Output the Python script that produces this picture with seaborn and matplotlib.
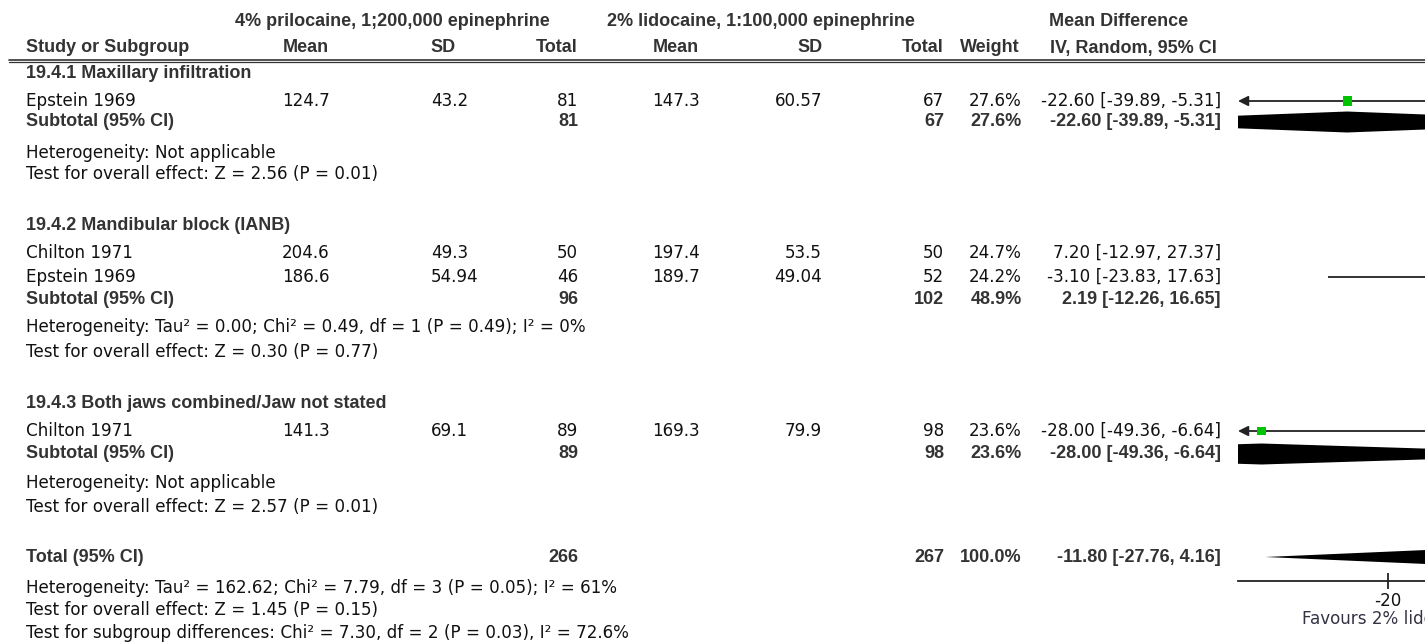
import matplotlib
matplotlib.use("Agg")
import matplotlib.pyplot as plt
from matplotlib.patches import Polygon
import seaborn as sns
import pandas as pd

# ---- data ----
group_titles = ["19.4.1 Maxillary infiltration",
                "19.4.2 Mandibular block (IANB)",
                "19.4.3 Both jaws combined/Jaw not stated"]
study_names = ["Epstein 1969", "Chilton 1971", "Epstein 1969", "Chilton 1971"]
study_group = [0, 1, 1, 2]
mean_pri = [124.7, 204.6, 186.6, 141.3]
sd_pri = [43.2, 49.3, 54.94, 69.1]
n_pri = [81, 50, 46, 89]
mean_lid = [147.3, 197.4, 189.7, 169.3]
sd_lid = [60.57, 53.5, 49.04, 79.9]
n_lid = [67, 50, 52, 98]
weight = [27.6, 24.7, 24.2, 23.6]
md = [-22.60, 7.20, -3.10, -28.00]
md_lo = [-39.89, -12.97, -23.83, -49.36]
md_hi = [-5.31, 27.37, 17.63, -6.64]

sub_n_pri = [81, 96, 89]
sub_n_lid = [67, 102, 98]
sub_weight = [27.6, 48.9, 23.6]
sub_md = [-22.60, 2.19, -28.00]
sub_lo = [-39.89, -12.26, -49.36]
sub_hi = [-5.31, 16.65, -6.64]

het_text = ["Heterogeneity: Not applicable",
            "Heterogeneity: Tau\u00b2 = 0.00; Chi\u00b2 = 0.49, df = 1 (P = 0.49); I\u00b2 = 0%",
            "Heterogeneity: Not applicable"]
effect_text = ["Test for overall effect: Z = 2.56 (P = 0.01)",
               "Test for overall effect: Z = 0.30 (P = 0.77)",
               "Test for overall effect: Z = 2.57 (P = 0.01)"]

total_n_pri = 266
total_n_lid = 267
total_weight = 100.0
total_md = -11.80
total_lo = -27.76
total_hi = 4.16
total_notes = ["Heterogeneity: Tau\u00b2 = 162.62; Chi\u00b2 = 7.79, df = 3 (P = 0.05); I\u00b2 = 61%",
               "Test for overall effect: Z = 1.45 (P = 0.15)",
               "Test for subgroup differences: Chi\u00b2 = 7.30, df = 2 (P = 0.03), I\u00b2 = 72.6%"]

xticks = [-20]
favours_left = "Favours 2% lidocaine"

# ---- layout (pixel rows, top = 0) ----
W, H = 1425, 643
group_title_y = [73, 225, 403]
study_y = [101, 253, 277, 431]
sub_y = [122, 300, 454]
het_y = [153, 327, 483]
effect_y = [174, 352, 507]
total_y = 557
total_notes_y = [588, 610, 633]

sns.set_theme(style="white")
plt.rcParams["font.family"] = ["DejaVu Sans"]

REG = dict(family="DejaVu Sans", size=12.1, color="#111111")
BOLD = dict(family="Liberation Sans", size=13, weight="bold", color="#333333")

fig = plt.figure(figsize=(W / 100, H / 100), dpi=100)
ax = fig.add_axes([0, 0, 1, 1])
ax.set_xlim(0, W)
ax.set_ylim(H, 0)
ax.axis("off")

# column anchors
X_NAME = 26
X_MEAN1, X_SD1, X_N1 = 306, 431, 578
X_MEAN2, X_SD2, X_N2 = 676, 822, 944
X_W, X_MD = 1022, 1221


def put(x, y, s, ha="left", style=REG):
    ax.text(x, y, s, ha=ha, va="center", **style)


# header
put(392, 22, "4% prilocaine, 1;200,000 epinephrine", "center", BOLD)
put(761, 22, "2% lidocaine, 1:100,000 epinephrine", "center", BOLD)
put(1049, 22, "Mean Difference", "left", BOLD)
put(X_NAME, 48, "Study or Subgroup", "left", BOLD)
put(X_MEAN1, 48, "Mean", "center", BOLD)
put(443, 48, "SD", "center", BOLD)
put(X_N1, 48, "Total", "right", BOLD)
put(X_MEAN2, 48, "Mean", "center", BOLD)
put(810, 48, "SD", "center", BOLD)
put(X_N2, 48, "Total", "right", BOLD)
put(960, 48, "Weight", "left", BOLD)
put(1050, 48, "IV, Random, 95% CI", "left", BOLD)
ax.plot([9, W], [59.8, 59.8], color="#333333", lw=1.2)
ax.plot([9, W], [62.4, 62.4], color="#333333", lw=0.9)

# study rows
for i, name in enumerate(study_names):
    y = study_y[i]
    put(X_NAME, y, name)
    put(X_MEAN1, y, f"{mean_pri[i]:g}", "center")
    put(X_SD1, y, f"{sd_pri[i]:g}")
    put(X_N1, y, f"{n_pri[i]}", "right")
    put(X_MEAN2, y, f"{mean_lid[i]:g}", "center")
    put(X_SD2, y, f"{sd_lid[i]:g}", "right")
    put(X_N2, y, f"{n_lid[i]}", "right")
    put(X_W, y, f"{weight[i]:.1f}%", "right")
    put(X_MD, y, f"{md[i]:.2f} [{md_lo[i]:.2f}, {md_hi[i]:.2f}]", "right")

# subgroup rows
for g, title in enumerate(group_titles):
    put(X_NAME, group_title_y[g], title, "left", BOLD)
    y = sub_y[g]
    put(X_NAME, y, "Subtotal (95% CI)", "left", BOLD)
    put(X_N1, y, f"{sub_n_pri[g]}", "right", BOLD)
    put(X_N2, y, f"{sub_n_lid[g]}", "right", BOLD)
    put(X_W, y, f"{sub_weight[g]:.1f}%", "right", BOLD)
    put(X_MD, y, f"{sub_md[g]:.2f} [{sub_lo[g]:.2f}, {sub_hi[g]:.2f}]", "right", BOLD)
    put(X_NAME, het_y[g], het_text[g])
    put(X_NAME, effect_y[g], effect_text[g])

# overall
put(X_NAME, total_y, "Total (95% CI)", "left", BOLD)
put(X_N1, total_y, f"{total_n_pri}", "right", BOLD)
put(X_N2, total_y, f"{total_n_lid}", "right", BOLD)
put(X_W, total_y, f"{total_weight:.1f}%", "right", BOLD)
put(X_MD, total_y, f"{total_md:.2f} [{total_lo:.2f}, {total_hi:.2f}]", "right", BOLD)
for note, y in zip(total_notes, total_notes_y):
    put(X_NAME, y, note)

# ---- forest panel (cut off at the right edge like the source) ----
PX_LEFT = 1238
px_per_unit = 15.85
x_at_px = lambda px: -20 + (px - 1388.3) / px_per_unit
xmin, xmax = x_at_px(PX_LEFT), x_at_px(W)

fx = fig.add_axes([PX_LEFT / W, 0, (W - PX_LEFT) / W, 1])
fx.set_xlim(xmin, xmax)
fx.set_ylim(H, 0)
fx.patch.set_alpha(0)
for side in ["top", "left", "right"]:
    fx.spines[side].set_visible(False)
fx.spines["bottom"].set_position(("data", 581))
fx.spines["bottom"].set_color("#222222")
fx.spines["bottom"].set_linewidth(1.3)
fx.set_yticks([])
fx.set_xticks(xticks)
fx.set_xticklabels([f"{t}" for t in xticks])
fx.tick_params(axis="x", direction="inout", length=12, width=1.3, color="#222222",
               pad=2, labelsize=12.1, labelcolor="#111111", bottom=True)
fx.grid(False)

line_kw = dict(color="#222222", lw=1.3)
for i in range(len(md)):
    y = study_y[i]
    if md_lo[i] < xmin:
        fx.annotate("", xy=(xmin, y), xytext=(md_hi[i], y), annotation_clip=False,
                    arrowprops=dict(arrowstyle="-|>", shrinkA=0, shrinkB=0,
                                    mutation_scale=15, **line_kw))
    else:
        fx.hlines(y, md_lo[i], md_hi[i], **line_kw)

df = pd.DataFrame({"md": md, "row": study_y, "w": weight})
sns.scatterplot(data=df, x="md", y="row", ax=fx, marker="s", color="#00c400",
                s=[(6.6 * (w / 27.6) ** 0.5) ** 2 for w in weight],
                edgecolor="none", legend=False, zorder=3)
fx.set_xlabel("")
fx.set_ylabel("")


def diamond(lo, est, hi, y, half=10.5):
    fx.add_patch(Polygon([(lo, y), (est, y - half), (hi, y), (est, y + half)],
                         closed=True, facecolor="black", edgecolor="none"))


for g in range(len(sub_md)):
    diamond(sub_lo[g], sub_md[g], sub_hi[g], sub_y[g])
diamond(total_lo, total_md, total_hi, total_y, half=11)

ax.text(1302, 619, favours_left, ha="left", va="center",
        family="DejaVu Sans", size=12.1, color="#333344")

fig.savefig("out.png", dpi=100)
